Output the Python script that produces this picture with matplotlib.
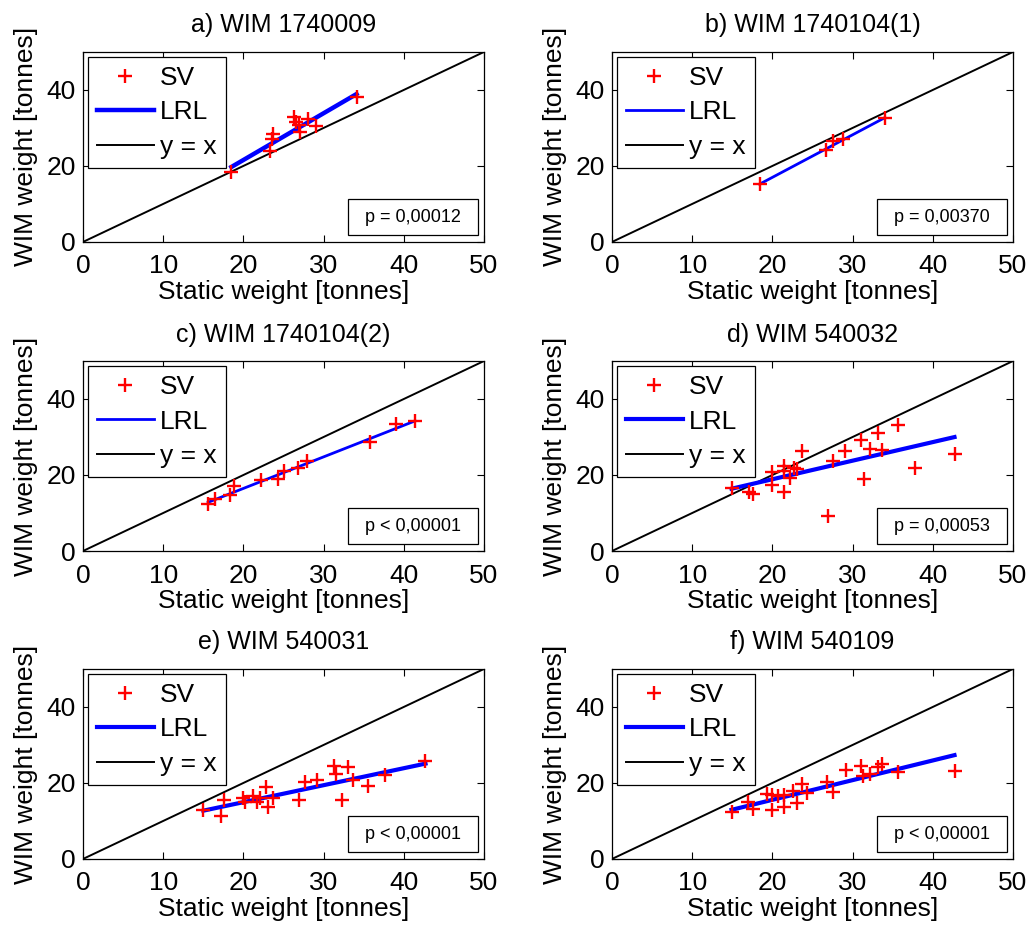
import numpy as np
import matplotlib
matplotlib.use("Agg")
import matplotlib.pyplot as plt
from matplotlib.patches import Rectangle

plt.rcParams['font.family'] = ['Liberation Sans', 'DejaVu Sans']

titles = ["a) WIM 1740009", "b) WIM 1740104(1)", "c) WIM 1740104(2)",
          "d) WIM 540032", "e) WIM 540031", "f) WIM 540109"]
pvals = ["p = 0,00012", "p = 0,00370", "p < 0,00001",
         "p = 0,00053", "p < 0,00001", "p < 0,00001"]

# static weight / WIM weight per station
xa = [18.5, 23.3, 23.75, 23.6, 26.25, 26.5, 26.9, 27.1, 28.0, 29.0, 34.1]
ya = [18.3, 23.9, 28.3, 27.0, 33.0, 31.6, 30.7, 28.9, 32.3, 30.4, 38.1]
xb = [18.4, 26.7, 27.6, 28.8, 34.0]
yb = [15.2, 24.3, 26.5, 27.0, 32.6]
xc = [15.6, 16.5, 18.3, 18.8, 22.2, 24.3, 25.0, 26.8, 27.9, 35.8, 39.0, 41.4]
yc = [12.5, 13.7, 14.8, 17.0, 18.8, 19.0, 21.0, 21.8, 23.6, 28.6, 33.4, 34.3]
xd = [14.9, 17.1, 17.6, 19.9, 19.9, 21.4, 21.4, 21.5, 22.2, 22.7, 23.1, 23.7,
      26.9, 27.6, 29.1, 31.1, 31.4, 32.2, 33.1, 33.6, 35.6, 37.8, 42.7]
yd = [16.7, 15.6, 15.0, 20.9, 17.3, 22.3, 21.0, 15.5, 19.2, 21.8, 21.6, 26.4,
      9.2, 23.6, 26.2, 29.3, 19.0, 26.8, 31.0, 26.6, 33.2, 21.8, 25.6]
xe = [15.0, 17.2, 17.6, 20.0, 20.2, 21.25, 21.7, 22.1, 22.8, 23.1, 23.75, 26.9,
      27.7, 29.2, 31.25, 31.5, 32.3, 33.1, 33.7, 35.5, 37.7, 42.7]
ye = [12.9, 11.4, 15.5, 16.1, 15.0, 16.6, 14.9, 16.0, 18.9, 13.6, 16.1, 15.5,
      20.3, 20.9, 24.4, 22.3, 15.5, 24.2, 20.7, 19.1, 22.1, 25.8]
xf = [14.9, 17.0, 17.6, 19.3, 20.0, 20.0, 20.7, 21.4, 21.45, 22.6, 23.1, 23.65,
      24.3, 26.8, 27.6, 29.2, 31.1, 31.3, 32.2, 33.1, 33.6, 35.6, 42.7]
yf = [12.3, 15.0, 13.1, 17.2, 16.7, 12.9, 16.6, 13.7, 16.7, 18.0, 14.8, 19.7,
      17.3, 20.3, 17.6, 23.4, 24.5, 21.9, 22.3, 24.3, 24.9, 22.9, 23.2]

# linear regression line (slope, intercept)
slopes = [1.23, 1.12, 0.83, 0.489, 0.447, 0.518]
inters = [-3.03, -5.4, -0.13, 9.1, 6.0, 5.2]
lrl_w = [3.2, 2.0, 2.0, 3.0, 3.0, 3.0]

xs = [xa, xb, xc, xd, xe, xf]
ys = [ya, yb, yc, yd, ye, yf]

fig = plt.figure(figsize=(10.31, 9.27), dpi=100)
lefts = [0.0805, 0.5936]
bottoms = [0.739, 0.4056, 0.0734]

for i in range(6):
    ax = fig.add_axes([lefts[i % 2], bottoms[i // 2], 0.389, 0.205])
    x = np.array(xs[i])
    y = np.array(ys[i])
    ax.plot(x, y, '+', color='red', ms=10, mew=1.7, label='SV', zorder=4)
    lx = np.array([x.min(), x.max()])
    ax.plot(lx, slopes[i] * lx + inters[i], color='blue', lw=lrl_w[i], label='LRL', zorder=3)
    ax.plot([0, 50], [0, 50], color='black', lw=1.4, label='y = x', zorder=2)
    ax.set_xlim(0, 50)
    ax.set_ylim(0, 50)
    ax.set_xticks([0, 10, 20, 30, 40, 50])
    ax.set_yticks([0, 20, 40])
    ax.tick_params(direction='in', top=True, right=True, labelsize=19, length=5)
    ax.tick_params(axis='x', pad=9)
    ax.tick_params(axis='y', pad=5)
    for s in ax.spines.values():
        s.set_linewidth(0.9)
    ax.set_title(titles[i], fontsize=18, pad=14)
    ax.set_xlabel("Static weight [tonnes]", fontsize=19, labelpad=1)
    ax.set_ylabel("WIM weight [tonnes]", fontsize=19, labelpad=6)
    leg = ax.legend(loc='upper left', fontsize=19, fancybox=False, edgecolor='black',
                    framealpha=1, borderaxespad=0.2, handlelength=2.15,
                    handletextpad=0.25, labelspacing=0.4, borderpad=0.33)
    leg.get_frame().set_linewidth(0.9)
    ax.add_patch(Rectangle((0.66, 0.035), 0.325, 0.19, transform=ax.transAxes,
                           fill=True, facecolor='white', edgecolor='black', lw=0.9, zorder=5))
    ax.text(0.8225, 0.13, pvals[i], transform=ax.transAxes, ha='center', va='center',
            fontsize=13, zorder=6)

fig.savefig("out.png", dpi=100)
